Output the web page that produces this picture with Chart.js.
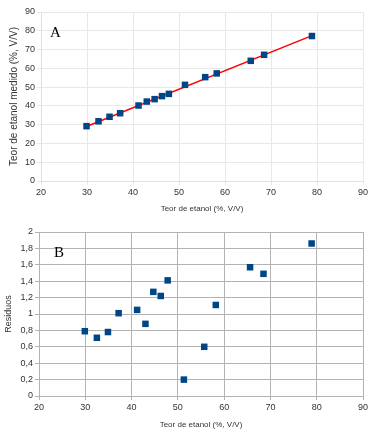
<!DOCTYPE html>
<html>
<head>
<meta charset="utf-8">
<script src="https://cdn.jsdelivr.net/npm/chart.js@4"></script>
<style>
  html, body { margin: 0; padding: 0; background: #fff; }
  .box { position: absolute; left: 0; width: 377px; }
</style>
</head>
<body>
<div class="box" style="top:0;height:215px"><canvas id="chartA" width="377" height="215"></canvas></div>
<div class="box" style="top:215px;height:216px"><canvas id="chartB" width="377" height="216"></canvas></div>
<script>
// teor de etanol (referencia), %, V/V
const teorReal = [29.9, 32.5, 34.9, 37.2, 41.2, 43.0, 44.7, 46.3, 47.8, 51.3, 55.7, 58.2, 65.6, 68.5, 78.9]
// teor medido
const teorMedido = [29.2, 31.8, 34.2, 36.1, 40.2, 42.3, 43.6, 45.2, 46.4, 51.2, 55.3, 57.3, 64.0, 67.2, 77.2]
// residuos
const residuos = [0.79, 0.71, 0.78, 1.01, 1.05, 0.88, 1.27, 1.22, 1.41, 0.20, 0.60, 1.11, 1.57, 1.49, 1.86]
// reta ajustada
const ajusteX = [29.9, 78.9]
const ajusteY = [29.0, 77.4]

const yTicksB = ['0', '0,2', '0,4', '0,6', '0,8', '1', '1,2', '1,4', '1,6', '1,8', '2']

Chart.defaults.font.family = "'Liberation Sans', Arial, sans-serif"
Chart.defaults.color = '#333'

const azul = '#004586'

function panelLabel(txt, x, y) {
    return {
        id: 'label' + txt,
        afterDraw(chart) {
            const ctx = chart.ctx
            ctx.save()
            ctx.font = "15px 'Liberation Serif', serif"
            ctx.fillStyle = '#000'
            ctx.fillText(txt, x, y)
            ctx.restore()
        }
    }
}

const toXY = (xs, ys) => xs.map((v, i) => ({ x: v, y: ys[i] }))

new Chart('chartA', {
    type: 'scatter',
    data: {
        datasets: [
            {
                data: toXY(teorReal, teorMedido),
                pointStyle: 'rect',
                pointRadius: 4.6,
                borderWidth: 0,
                backgroundColor: azul
            },
            {
                type: 'line',
                data: toXY(ajusteX, ajusteY),
                borderColor: '#ff0000',
                borderWidth: 1.5,
                pointRadius: 0,
                fill: false
            }
        ]
    },
    options: {
        responsive: false,
        animation: false,
        layout: { padding: { top: 12, right: 14, left: 0, bottom: 0 } },
        plugins: { legend: { display: false }, tooltip: { enabled: false } },
        scales: {
            x: {
                type: 'linear', min: 20, max: 90,
                ticks: { stepSize: 10, font: { size: 9 }, padding: 2, maxRotation: 0 },
                grid: { color: '#e8e8e8', tickLength: 4 },
                border: { color: '#e0e0e0' },
                title: { display: true, text: 'Teor de etanol (%, V/V)', font: { size: 8 }, padding: { top: 4, bottom: 1 } },
                afterFit(s) { s.height = 34 }
            },
            y: {
                min: 0, max: 90,
                ticks: { stepSize: 10, font: { size: 9 }, padding: 2 },
                grid: { color: '#e8e8e8', tickLength: 4 },
                border: { color: '#e0e0e0' },
                title: { display: true, text: 'Teor de etanol medido (%, V/V)', font: { size: 10 }, padding: { top: 8, bottom: 0 } },
                afterFit(s) { s.width = 41 }
            }
        }
    },
    plugins: [panelLabel('A', 50, 37)]
})

new Chart('chartB', {
    type: 'scatter',
    data: {
        datasets: [
            {
                data: toXY(teorReal, residuos),
                pointStyle: 'rect',
                pointRadius: 4.6,
                borderWidth: 0,
                backgroundColor: azul
            }
        ]
    },
    options: {
        responsive: false,
        animation: false,
        layout: { padding: { top: 17, right: 14, left: 0, bottom: 0 } },
        plugins: { legend: { display: false }, tooltip: { enabled: false } },
        scales: {
            x: {
                type: 'linear', min: 20, max: 90,
                ticks: { stepSize: 10, font: { size: 9 }, padding: 2, maxRotation: 0 },
                grid: { color: '#b3b3b3', tickLength: 4 },
                border: { color: '#b3b3b3' },
                title: { display: true, text: 'Teor de etanol (%, V/V)', font: { size: 8 }, padding: { top: 4, bottom: 1 } },
                afterFit(s) { s.height = 35 }
            },
            y: {
                min: 0, max: 2,
                ticks: {
                    stepSize: 0.2, font: { size: 9 }, padding: 2,
                    callback: (v) => yTicksB[Math.round(v * 5)]
                },
                grid: { color: '#b3b3b3', tickLength: 4 },
                border: { color: '#b3b3b3' },
                title: { display: true, text: 'Residuos', font: { size: 9 }, padding: { top: 3, bottom: 0 } },
                afterFit(s) { s.width = 39 }
            }
        }
    },
    plugins: [panelLabel('B', 54, 42)]
})
</script>
</body>
</html>
